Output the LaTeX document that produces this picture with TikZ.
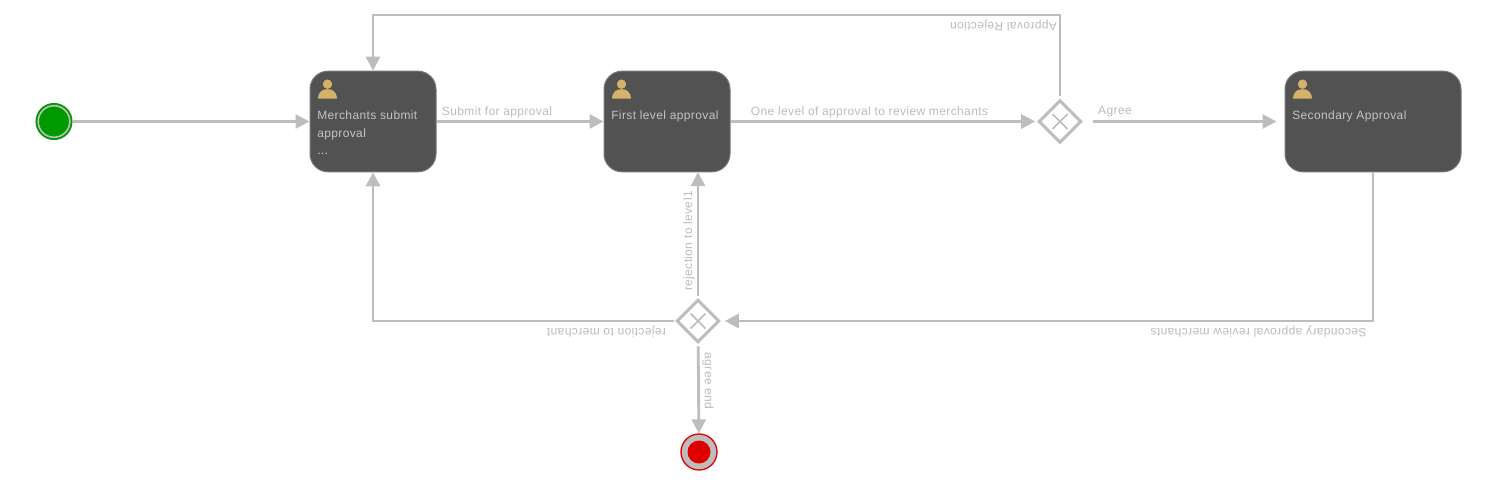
\documentclass[tikz,border=0pt]{standalone}
\usepackage{fontspec}
\setmainfont[LetterSpace=3.2]{Liberation Sans}
\usetikzlibrary{arrows.meta, positioning, calc, shapes.geometric}
\definecolor{flowgray}{HTML}{BDBDBD}
\definecolor{taskfill}{HTML}{525252}
\definecolor{taskline}{HTML}{777777}
\definecolor{labelgray}{HTML}{BBBBBB}
\definecolor{tasktext}{HTML}{C4C4C4}
\definecolor{usergold}{HTML}{D4B26A}
\definecolor{startgreen}{HTML}{009900}
\definecolor{endred}{HTML}{E00000}

\begin{document}
\begin{tikzpicture}[
  x=0.75pt, y=-0.75pt,
  task/.style={draw=taskline, fill=taskfill, line width=0.75pt, rounded corners=13.5pt,
    minimum height=75.5pt, inner sep=0pt},
  tasklabel/.style={font=\fontsize{9}{13.1}\selectfont, text=tasktext, anchor=base west, inner sep=0pt, align=left},
  flowlabel/.style={font=\fontsize{9}{11}\selectfont, text=labelgray, inner sep=0pt},
  gateway/.style={diamond, draw=flowgray, fill=white, line width=2.2pt, aspect=1,
    minimum size=32pt, inner sep=0pt,
    path picture={
      \draw[flowgray, line width=1.2pt]
        ($(path picture bounding box.center)+(-7.5,-7.5)$) -- ($(path picture bounding box.center)+(7.5,7.5)$)
        ($(path picture bounding box.center)+(-7.5,7.5)$) -- ($(path picture bounding box.center)+(7.5,-7.5)$);
    }},
  flow/.style={draw=flowgray, line width=2.1pt, -{Triangle[length=10.5pt,width=10.5pt]}}
]
  \useasboundingbox (0,0) rectangle (1496,482);

  % Events
  \node[circle, fill=startgreen, draw=startgreen, line width=0.8pt, minimum size=27pt, inner sep=0pt] (start) at (54,121.5) {};
  \draw[flowgray, line width=1.2pt] (start) circle (15.8);
  \node[circle, fill=flowgray, draw=endred, line width=1pt, minimum size=27pt, inner sep=0pt] (finish) at (699,452) {};
  \fill[endred] (finish) circle (11.5);

  % Tasks
  \node[task, minimum width=94.5pt] (merchant) at (373,121.5) {};
  \node[task, minimum width=94.5pt] (first) at (667,121.5) {};
  \node[task, minimum width=132pt] (second) at (1373,121.5) {};

  % User icons
  \foreach \t in {merchant, first, second} {
    \fill[usergold] ($(\t.north west)+(18,13.5)$) circle (4.7);
    \fill[usergold] ($(\t.north west)+(8.5,28)$) .. controls ($(\t.north west)+(9,20)$) and ($(\t.north west)+(14,18.5)$) .. ($(\t.north west)+(18,18.5)$)
      .. controls ($(\t.north west)+(22,18.5)$) and ($(\t.north west)+(27,20)$) .. ($(\t.north west)+(27.5,28)$) -- cycle;
  }

  % Task texts
  \node[tasklabel, anchor=north west] (merchanttext) at (317,111) {Merchants submit\\approval};
  \node[tasklabel, text=white!85!black] (merchantmore) at (317,154.5) {...};
  \node[tasklabel] (firsttext) at (611,119.5) {First level approval};
  \node[tasklabel] (secondtext) at (1292,119.5) {Secondary Approval};

  % Gateways
  \node[gateway] (check) at (1060,121.5) {};
  \node[gateway] (review) at (698,321) {};

  % Flows
  \draw[flow] (start) -- (merchant);
  \draw[flow] (merchant) -- (first);
  \draw[flow, shorten >=1.5pt] (first.east |- check) -- (check);
  \draw[flow, shorten <=7.5pt, shorten >=6pt] (check) -- (second.west |- check);
  \draw[flow, shorten <=2pt] (check) -- (1060,15) -| (merchant);
  \draw[flow, shorten >=3pt] (second) |- (review);
  \draw[flow, shorten <=2pt] (review) -- (698,172);
  \draw[flow, shorten <=1pt] (review) -| (merchant);
  \draw[flow, shorten <=2pt] (review) -- (finish);

  % Flow labels
  \node[flowlabel] (l1) at (497,112) {Submit for approval};
  \node[flowlabel] (l2) at (869.5,112) {One level of approval to review merchants};
  \node[flowlabel] (l3) at (1115,112) {Agree};
  \node[flowlabel, rotate=180] (l4) at (1003.5,25.5) {Approval Rejection};
  \node[flowlabel, rotate=180] (l5) at (1258.5,332) {Secondary approval review merchants};
  \node[flowlabel, rotate=180] (l6) at (606.5,332) {rejection to merchant};
  \node[flowlabel, rotate=90] (l7) at (689,241) {rejection to level1};
  \node[flowlabel, rotate=-90] (l8) at (708,381) {agree end};
\end{tikzpicture}
\end{document}
